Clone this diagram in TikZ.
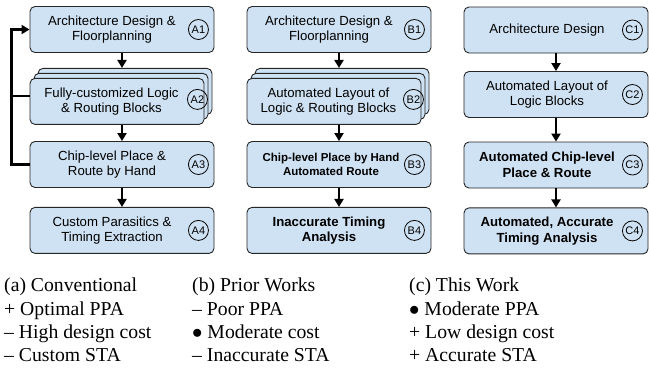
\documentclass[tikz,border=0pt]{standalone}
\usepackage{fontspec}
\setmainfont{Liberation Serif}
\setsansfont{Liberation Sans}
\usepackage{tikz}
\usetikzlibrary{positioning}
\usetikzlibrary{arrows.meta, shadows}

\definecolor{stageblue}{RGB}{207,226,243}

\begin{document}
\begin{tikzpicture}[x=1pt,y=-1pt]

\tikzset{stage box/.style={
		draw=black!85, line width=0.9pt,
		fill=stageblue,
		rounded corners=5pt,
		minimum width=184pt,
		minimum height=46pt,
		inner sep=0pt
	},
	stacked/.style={
		minimum width=174pt,
		double copy shadow={shadow xshift=4pt, shadow yshift=5pt,
			draw=black!85, fill=stageblue, line width=0.9pt}
	},
	stage text/.style={align=center, inner sep=0pt,
		font=\sffamily\fontsize{13.2}{15.5}\selectfont},
	bold text/.style={align=center, inner sep=0pt,
		font=\sffamily\bfseries\fontsize{13.2}{15.5}\selectfont},
	tag circle/.style={draw, circle, line width=0.8pt,
		minimum size=20pt, inner sep=0pt,
		font=\sffamily\fontsize{11}{11}\selectfont},
	flow/.style={-{Triangle[length=8pt,width=9pt]}, line width=2pt},
	caption text/.style={align=left, anchor=north west, inner sep=0pt,
		font=\fontsize{19.7}{23.3}\selectfont}
}
\useasboundingbox (0,0) rectangle (649,376);

% (a) conventional flow
\node[stage box] (a1) at (122,29.5) {};
\node[stage box, stacked, below=25pt of a1.south west, anchor=north west] (a2) {};
\node[stage box] (a3) at (122,164.5) {};
\node[stage box, below=19pt of a3] (a4) {};
\coordinate (a2top) at ([yshift=10pt]a2.north);

\node[stage text] (a1l) at ([xshift=-10pt]a1.center) {Architecture Design \&\\Floorplanning};
\node[tag circle] (a1t) at ([xshift=-16pt]a1.east) {A1};
\node[stage text] (a2l) at ([xshift=-5.5pt]a2.center) {Fully-customized Logic\\\& Routing Blocks};
\node[tag circle] (a2t) at ([xshift=-7pt,yshift=2pt]a2.east) {A2};
\node[stage text] (a3l) at ([xshift=-10pt]a3.center) {Chip-level Place \&\\Route by Hand};
\node[tag circle] (a3t) at ([xshift=-16pt]a3.east) {A3};
\node[stage text] (a4l) at ([xshift=-10pt]a4.center) {Custom Parasitics \&\\Timing Extraction};
\node[tag circle] (a4t) at ([xshift=-16pt]a4.east) {A4};

\draw[flow] (a1) -- (a1 |- a2top);
\draw[flow] (a3 |- a2.south) -- (a3);
\draw[flow] (a3) -- (a4);
\draw[flow, line width=2.4pt] (a3.west) -- ++(-18,0) |- (a1.west);
\draw[line width=2.4pt] ([yshift=5.5pt]a2.west) -- ++(-18,0);

% (b) prior works
\node[stage box] (b1) at (339,29.5) {};
\node[stage box, stacked, below=25pt of b1.south west, anchor=north west] (b2) {};
\node[stage box] (b3) at (339,164.5) {};
\node[stage box, below=19pt of b3] (b4) {};
\coordinate (b2top) at ([yshift=10pt]b2.north);

\node[stage text] (b1l) at ([xshift=-10pt]b1.center) {Architecture Design \&\\Floorplanning};
\node[tag circle] (b1t) at ([xshift=-17pt]b1.east) {B1};
\node[stage text] (b2l) at ([xshift=-5.5pt]b2.center) {Automated Layout of\\Logic \& Routing Blocks};
\node[tag circle] (b2t) at ([xshift=-8pt,yshift=2pt]b2.east) {B2};
\node[bold text, font=\sffamily\bfseries\fontsize{11.5}{14}\selectfont] (b3l) at ([xshift=-8pt]b3.center) {Chip-level Place by Hand\\Automated Route};
\node[tag circle] (b3t) at ([xshift=-17pt]b3.east) {B3};
\node[bold text] (b4l) at ([xshift=-10pt]b4.center) {Inaccurate Timing\\Analysis};
\node[tag circle] (b4t) at ([xshift=-17pt]b4.east) {B4};

\draw[flow] (b1) -- (b1 |- b2top);
\draw[flow] (b3 |- b2.south) -- (b3);
\draw[flow] (b3) -- (b4);

% (c) this work
\node[stage box] (c1) at (556,30) {};
\node[stage box] (c2) at (556,94.5) {};
\node[stage box] (c3) at (556,165) {};
\node[stage box, below=19pt of c3] (c4) {};

\node[stage text] (c1l) at ([xshift=-9pt]c1.center) {Architecture Design};
\node[tag circle] (c1t) at ([xshift=-16pt]c1.east) {C1};
\node[stage text] (c2l) at ([xshift=-9pt]c2.center) {Automated Layout of\\Logic Blocks};
\node[tag circle] (c2t) at ([xshift=-16pt]c2.east) {C2};
\node[bold text] (c3l) at ([xshift=-9pt]c3.center) {Automated Chip-level\\Place \& Route};
\node[tag circle] (c3t) at ([xshift=-16pt]c3.east) {C3};
\node[bold text] (c4l) at ([xshift=-9pt]c4.center) {Automated, Accurate\\Timing Analysis};
\node[tag circle] (c4t) at ([xshift=-16pt]c4.east) {C4};

\draw[flow] (c1) -- (c2);
\draw[flow] (c2) -- (c3);
\draw[flow] (c3) -- (c4);

% captions
\node[caption text] (capa) at (4,278) {(a) Conventional\\+ Optimal PPA\\– High design cost\\– Custom STA};
\node[caption text] (capb) at (192,278) {(b) Prior Works\\– Poor PPA\\$\bullet$ Moderate cost\\– Inaccurate STA};
\node[caption text] (capc) at (409,278) {(c) This Work\\$\bullet$ Moderate PPA\\+ Low design cost\\+ Accurate STA};

\end{tikzpicture}
\end{document}
